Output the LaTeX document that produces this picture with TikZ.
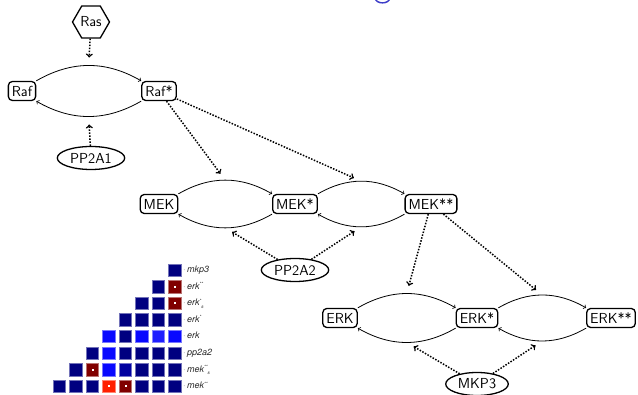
\documentclass[tikz,border=0pt]{standalone}
\usepackage{fontspec}
\newfontfamily\hlabfont{TeX Gyre Heros}
\usetikzlibrary{shapes.geometric}
\definecolor{hnavy}{RGB}{0,0,128}
\definecolor{hnavyb}{RGB}{0,0,160}
\definecolor{hblue}{RGB}{8,8,255}
\definecolor{hblueb}{RGB}{30,30,255}
\definecolor{hdred}{RGB}{128,0,0}
\definecolor{hred}{RGB}{255,32,0}
\definecolor{titleblue}{RGB}{60,60,200}
\definecolor{labgray}{RGB}{40,40,40}
\newcommand\hmlab[3]{\textcolor{gray}{\textperiodcentered}\,\itshape #1\raisebox{3.5pt}{\fontsize{4.5}{5}\selectfont #2}\raisebox{-2.5pt}{\fontsize{4.5}{5}\selectfont #3}}
\tikzset{
  species/.style={draw, rounded corners=4pt, line width=1.3pt, inner xsep=3.5pt, inner ysep=2pt, minimum height=19pt},
  enzyme/.style={draw, ellipse, line width=1.3pt, inner xsep=3pt, inner ysep=1pt, minimum height=23pt},
  hexa/.style={draw, regular polygon, regular polygon sides=6, line width=1.3pt, inner sep=0pt, minimum size=37pt},
  conv/.style={->, line width=0.8pt},
  inh/.style={->, line width=1.5pt, dash pattern=on 1.5pt off 1.5pt, shorten >=8pt},
  hsq/.style={line width=0.8pt},
  hlab/.style={anchor=west, inner sep=0pt, text=labgray, font=\hlabfont\fontsize{9}{10}\selectfont},
}
\begin{document}
\begin{tikzpicture}[x=1pt,y=-1pt, font=\sffamily\fontsize{14.5}{16}\selectfont]
\useasboundingbox (0,0) rectangle (638,395);
% title fragment
\draw[line width=1.4pt, titleblue] (375,-2) .. controls (376,4.5) and (389,4.5) .. (390,-2);

% nodes
\node[hexa] (ras) at (91,22) {Ras};
\node[species] (raf) at (22,91) {Raf};
\node[species] (rafp) at (159,91) {Raf*};
\node[enzyme] (pp2a1) at (91,158) {PP2A1};

\node[species] (mek) at (159,204) {MEK};
\node[species] (mekp) at (295,204) {MEK*};
\node[species] (mekpp) at (431,204) {MEK**};
\node[enzyme] (pp2a2) at (295,270) {PP2A2};

\node[species] (erk) at (340,318) {ERK};
\node[species] (erkp) at (477,318) {ERK*};
\node[species] (erkpp) at (611,318) {ERK**};
\node[enzyme] (mkp3) at (477,384) {MKP3};

% conversions
\draw[conv] (raf.north east) to[bend left=30] node[coordinate,midway] (a1) {} (rafp.north west);
\draw[conv] (rafp.south west) to[bend left=30] node[coordinate,midway] (b1) {} (raf.south east);

\draw[conv] (mek.north east) to[bend left=30] node[coordinate,midway] (a2) {} (mekp.north west);
\draw[conv] (mekp.south west) to[bend left=30] node[coordinate,midway] (b2) {} (mek.south east);
\draw[conv] (mekp.north east) to[bend left=30] node[coordinate,midway] (a3) {} (mekpp.north west);
\draw[conv] (mekpp.south west) to[bend left=30] node[coordinate,midway] (b3) {} (mekp.south east);

\draw[conv] (erk.north east) to[bend left=30] node[coordinate,midway] (a4) {} (erkp.north west);
\draw[conv] (erkp.south west) to[bend left=30] node[coordinate,midway] (b4) {} (erk.south east);
\draw[conv] (erkp.north east) to[bend left=30] node[coordinate,midway] (a5) {} (erkpp.north west);
\draw[conv] (erkpp.south west) to[bend left=30] node[coordinate,midway] (b5) {} (erkp.south east);

% regulation
\draw[inh] (ras) -- (a1);
\draw[inh] (pp2a1) -- (b1);
\draw[inh] (rafp) -- (a2);
\draw[inh] (rafp) -- (a3);
\draw[inh] (pp2a2) -- (b2);
\draw[inh] (pp2a2) -- (b3);
\draw[inh] (mekpp) -- (a4);
\draw[inh] (mekpp) -- (a5);
\draw[inh] (mkp3) -- (b4);
\draw[inh] (mkp3) -- (b5);

% heat map
\foreach \c/\r/\col/\d in {
  8/0/hnavy/0,
  7/1/hnavy/0, 8/1/hdred/1,
  6/2/hnavy/0, 7/2/hnavy/0, 8/2/hdred/1,
  5/3/hnavy/0, 6/3/hnavy/0, 7/3/hnavy/0, 8/3/hnavy/0,
  4/4/hblue/0, 5/4/hnavy/0, 6/4/hblue/0, 7/4/hblueb/0, 8/4/hblue/0,
  3/5/hnavy/0, 4/5/hblue/0, 5/5/hnavy/0, 6/5/hnavy/0, 7/5/hnavy/0, 8/5/hnavy/0,
  2/6/hnavy/0, 3/6/hdred/1, 4/6/hblue/0, 5/6/hnavyb/0, 6/6/hnavy/0, 7/6/hnavy/0, 8/6/hnavy/0,
  1/7/hnavy/0, 2/7/hnavy/0, 3/7/hnavy/0, 4/7/hred/1, 5/7/hdred/1, 6/7/hnavy/0, 7/7/hnavy/0, 8/7/hnavy/0} {
  \pgfmathsetmacro\xx{53.3+(\c-1)*16.5}
  \pgfmathsetmacro\yy{264+\r*16.6}
  \fill[\col, draw=\col!55!white, hsq] (\xx,\yy) rectangle ++(12.5,12.5);
  \ifnum\d=1 \fill[white] (\xx+5.3,\yy+5.3) rectangle ++(2,2); \fi
}
\node[hlab] (l0) at (183,270.3) {\hmlab{mkp3}{}{}};
\node[hlab] (l1) at (183,286.9) {\hmlab{erk}{**}{}};
\node[hlab] (l2) at (183,303.5) {\hmlab{erk}{*}{s}};
\node[hlab] (l3) at (183,320.1) {\hmlab{erk}{*}{}};
\node[hlab] (l4) at (183,336.7) {\hmlab{erk}{}{}};
\node[hlab] (l5) at (183,353.3) {\hmlab{pp2a2}{}{}};
\node[hlab] (l6) at (183,369.9) {\hmlab{mek}{**}{s}};
\node[hlab] (l7) at (183,386.5) {\hmlab{mek}{**}{}};
\end{tikzpicture}
\end{document}
